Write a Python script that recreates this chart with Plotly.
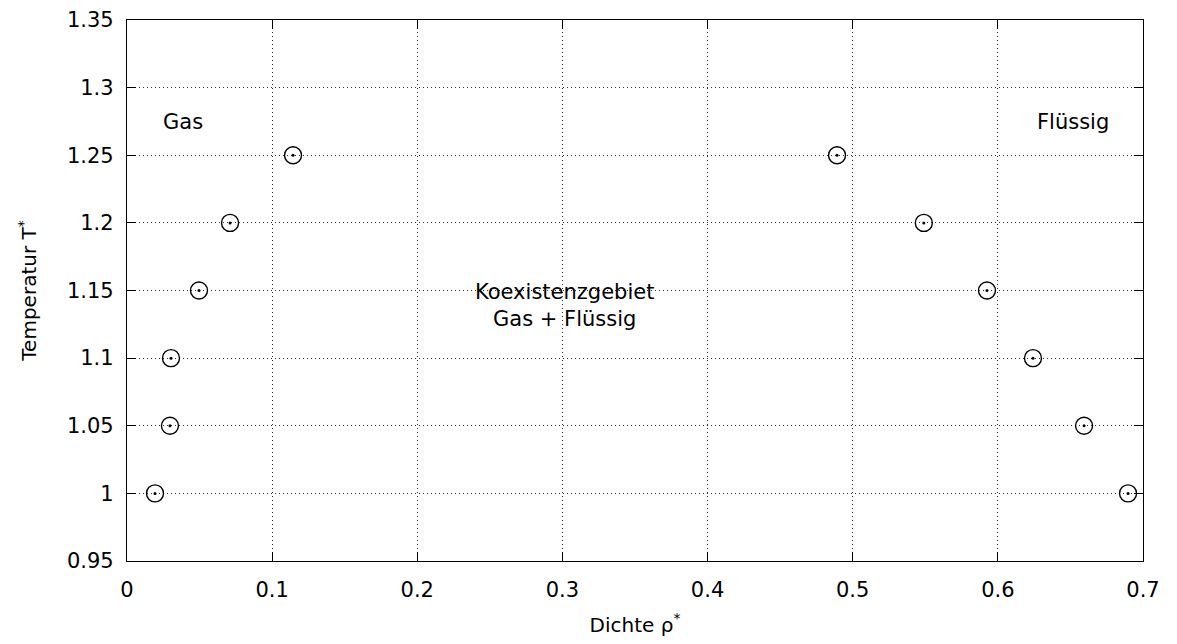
import plotly.graph_objects as go

temps = [1.0, 1.05, 1.1, 1.15, 1.2, 1.25]
rho_gas = [0.0193, 0.0296, 0.0303, 0.0496, 0.0710, 0.1144]
rho_liq = [0.6897, 0.6594, 0.6242, 0.5925, 0.5490, 0.4892]

x_ticks = [0, 0.1, 0.2, 0.3, 0.4, 0.5, 0.6, 0.7]
x_ticklabels = ["0", "0.1", "0.2", "0.3", "0.4", "0.5", "0.6", "0.7"]
y_ticks = [0.95, 1.0, 1.05, 1.1, 1.15, 1.2, 1.25, 1.3, 1.35]
y_ticklabels = ["0.95", "1", "1.05", "1.1", "1.15", "1.2", "1.25", "1.3", "1.35"]

font_family = "DejaVu Sans"
marker = dict(symbol="circle", size=17, color="rgba(0,0,0,0)",
              line=dict(color="black", width=1.4))

fig = go.Figure()
fig.add_trace(go.Scatter(x=rho_gas + rho_liq, y=temps + temps, mode="markers",
                         marker=marker, showlegend=False))
fig.add_trace(go.Scatter(x=rho_gas + rho_liq, y=temps + temps, mode="markers",
                         marker=dict(symbol="circle", size=3, color="black"),
                         showlegend=False, hoverinfo="skip"))

axis_common = dict(showline=True, linecolor="black", linewidth=1.3, mirror="ticks",
                   ticks="inside", ticklen=9, tickcolor="black", tickwidth=1,
                   showgrid=True, gridcolor="#333", griddash="1px,3px", gridwidth=1,
                   zeroline=False, automargin=False,
                   tickfont=dict(family=font_family, size=21, color="black"))

fig.update_xaxes(range=[0, 0.7], tickvals=x_ticks, ticktext=x_ticklabels,
                 ticklabelstandoff=10,
                 title=dict(text="Dichte ρ<sup>*</sup>", font=dict(family=font_family, size=20, color="black"),
                            standoff=16),
                 **axis_common)
fig.update_yaxes(range=[0.95, 1.35], tickvals=y_ticks, ticktext=y_ticklabels,
                 ticklabelstandoff=8,
                 title=dict(text="Temperatur T<sup>*</sup>", font=dict(family=font_family, size=20, color="black"),
                            standoff=24),
                 **axis_common)

ann_font = dict(family=font_family, size=21, color="black")
fig.add_annotation(x=0.0389, y=1.2746, text="Gas", showarrow=False, font=ann_font)
fig.add_annotation(x=0.6518, y=1.2746, text="Flüssig", showarrow=False, font=ann_font)
fig.add_annotation(x=0.3011, y=1.139, text="Koexistenzgebiet<br>Gas + Flüssig",
                   showarrow=False, font=ann_font, align="center")

fig.update_layout(width=1177, height=644, plot_bgcolor="white", paper_bgcolor="white",
                  margin=dict(l=119, r=42, t=12, b=91),
                  font=dict(family=font_family, size=20, color="black"))

fig.write_html("out.html")
